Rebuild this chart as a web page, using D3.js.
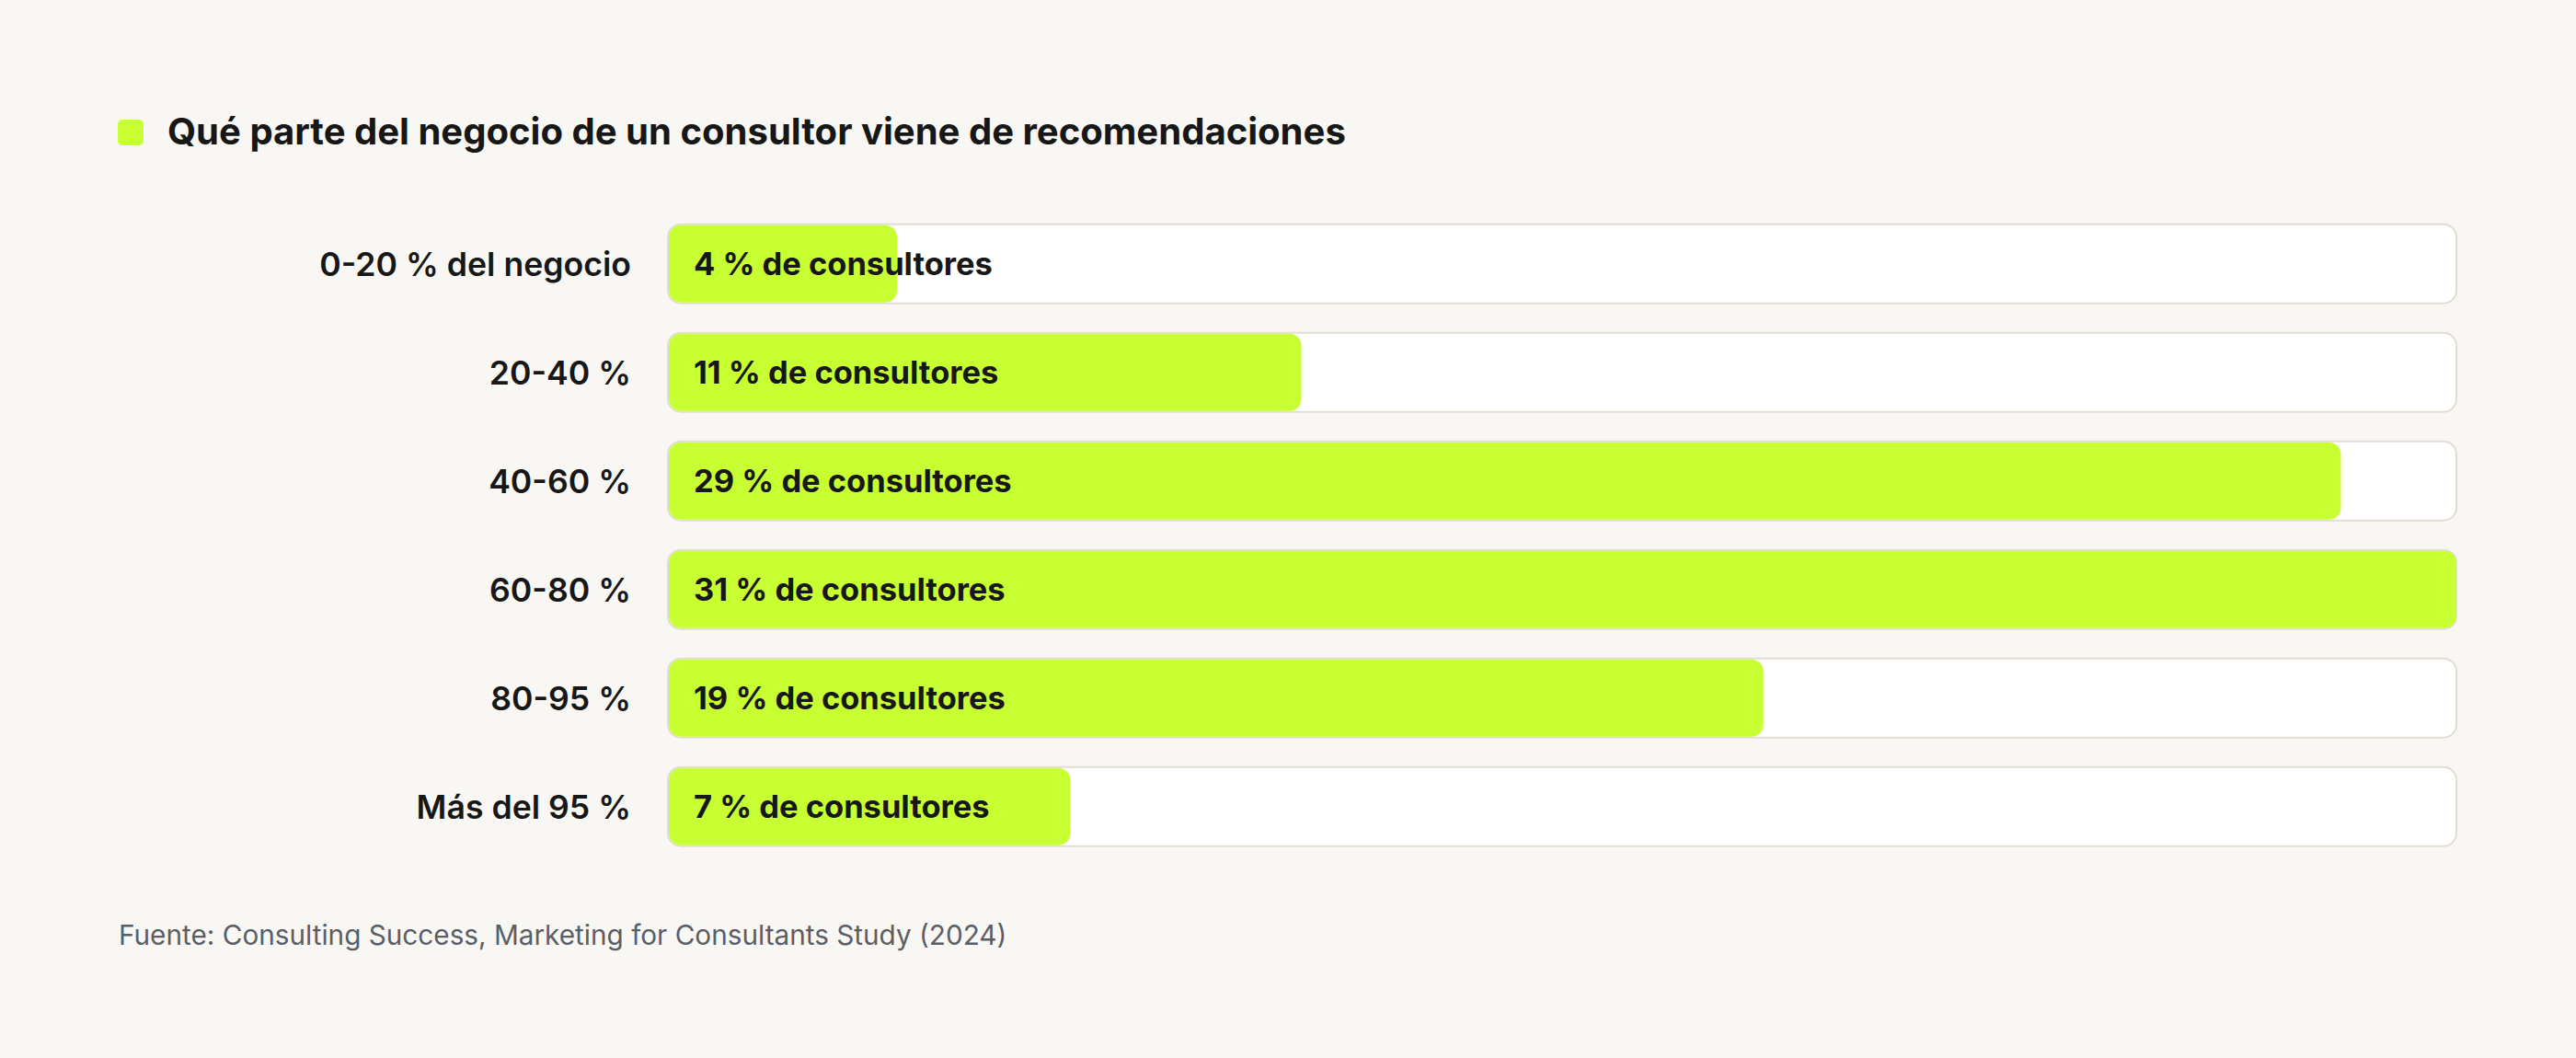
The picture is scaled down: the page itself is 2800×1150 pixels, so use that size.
<!DOCTYPE html>
<html>
<head>
<meta charset="utf-8">
<script src="https://cdn.jsdelivr.net/npm/d3@7"></script>
<style>
  html, body { margin: 0; padding: 0; background: #f9f7f3; }
  svg { display: block; }
</style>
</head>
<body>
<svg id="chart" width="2800" height="1150"></svg>
<script>
// ---- data ----
const title = "Qué parte del negocio de un consultor viene de recomendaciones";
const categories = ["0-20 % del negocio", "20-40 %", "40-60 %", "60-80 %", "80-95 %", "Más del 95 %"];
const values = [4, 11, 29, 31, 19, 7];
const valueLabels = ["4 % de consultores", "11 % de consultores", "29 % de consultores", "31 % de consultores", "19 % de consultores", "7 % de consultores"];
const source = "Fuente: Consulting Success, Marketing for Consultants Study (2024)";

// ---- styles / layout ----
const FONT = "Inter, 'Open Sans', sans-serif";
const bg = "#f9f7f3", green = "#c8ff33", trackFill = "#ffffff", trackStroke = "#e2ddd3";
const ink = "#171717", grey = "#5a5e67";

const svg = d3.select("#chart");
svg.append("rect").attr("width", 2800).attr("height", 1150).attr("fill", bg);

const x = d3.scaleLinear().domain([0, d3.max(values)]).range([725, 2671]);
const step = 118, gap = 30;
const y = d3.scaleBand().domain(categories)
  .range([242.7 - gap / 2, 242.7 - gap / 2 + step * categories.length])
  .paddingInner(gap / step).paddingOuter(gap / step / 2);

// fit font size to a target width
function fitSize(text, weight, base, target) {
  const t = svg.append("text").attr("font-family", FONT).attr("font-weight", weight)
    .attr("font-size", base).text(text);
  const w = t.node().getComputedTextLength();
  t.remove();
  return base * target / w;
}

// title
svg.append("rect").attr("x", 128).attr("y", 130).attr("width", 28).attr("height", 28)
  .attr("rx", 5).attr("fill", green);
const titleSize = fitSize(title, 700, 34, 1281);
svg.append("text").attr("x", 182).attr("y", 157)
  .attr("font-family", FONT).attr("font-weight", 700).attr("font-size", titleSize)
  .attr("fill", ink).text(title);

// rows
const catSize = fitSize(categories[0], 600, 36, 339);
const valSize = fitSize(valueLabels[0], 700, 36, 325);

const rows = svg.append("g").selectAll("g").data(categories).join("g");

rows.append("rect")
  .attr("x", x(0) + 1).attr("y", d => y(d) + 1)
  .attr("width", x.range()[1] - x(0) - 2).attr("height", y.bandwidth() - 2)
  .attr("rx", 14).attr("fill", trackFill)
  .attr("stroke", trackStroke).attr("stroke-width", 2);

rows.append("rect")
  .attr("x", x(0) + 2).attr("y", d => y(d) + 2)
  .attr("width", (d, i) => Math.max(0, x(values[i]) - x(0) - 3))
  .attr("height", y.bandwidth() - 4)
  .attr("rx", 13).attr("fill", green);

rows.append("text")
  .attr("x", x(0) - 39).attr("y", d => y(d) + y.bandwidth() / 2 + catSize * 0.36)
  .attr("text-anchor", "end")
  .attr("font-family", FONT).attr("font-weight", 600).attr("font-size", catSize)
  .attr("fill", ink).text(d => d);

rows.append("text")
  .attr("x", x(0) + 29).attr("y", d => y(d) + y.bandwidth() / 2 + valSize * 0.36)
  .attr("font-family", FONT).attr("font-weight", 700).attr("font-size", valSize)
  .attr("fill", ink).text((d, i) => valueLabels[i]);

// source
const srcSize = fitSize(source, 400, 30, 966);
svg.append("text").attr("x", 129).attr("y", 1027)
  .attr("font-family", FONT).attr("font-weight", 400).attr("font-size", srcSize)
  .attr("fill", grey).text(source);
</script>
</body>
</html>
